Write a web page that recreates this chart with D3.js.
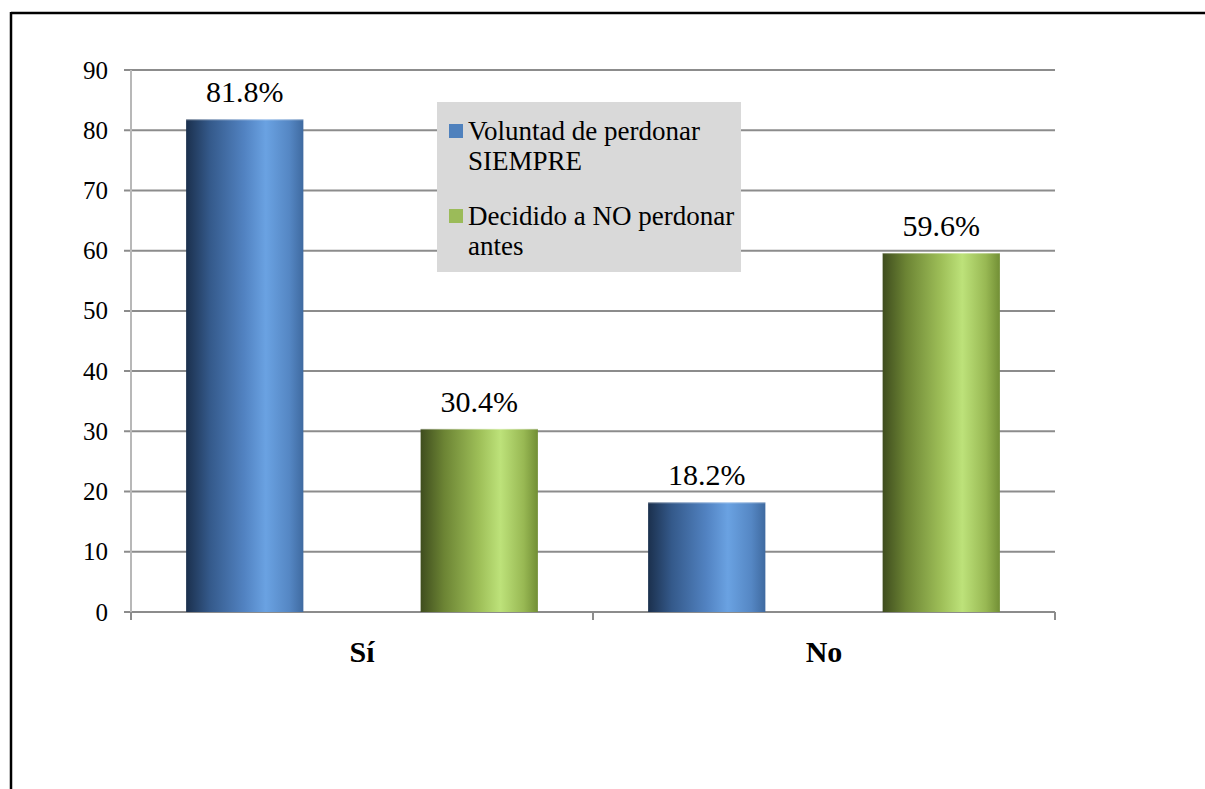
<!DOCTYPE html>
<html>
<head>
<meta charset="utf-8">
<script src="https://cdn.jsdelivr.net/npm/d3@7"></script>
<style>
  html, body { margin: 0; padding: 0; background: #fff; }
  svg { display: block; }
</style>
</head>
<body>
<svg id="chart" width="1205" height="789"></svg>
<script>
// Respuestas agrupadas por categoría
const categories = ["Sí", "No"];
const seriesNames = ["Voluntad de perdonar SIEMPRE", "Decidido a NO perdonar antes"];
const legendLines = [["Voluntad de perdonar", "SIEMPRE"], ["Decidido a NO perdonar", "antes"]];
const voluntadValues = [81.8, 18.2];
const decididoValues = [30.4, 59.6];
const yTicks = [0, 10, 20, 30, 40, 50, 60, 70, 80, 90];

const seriesValues = [voluntadValues, decididoValues];
const rows = categories.map((c, i) => ({
  category: c,
  values: seriesNames.map((s, k) => ({ series: s, k, value: seriesValues[k][i] }))
}));

const FONT = "'Liberation Serif', 'Times New Roman', Times, 'DejaVu Serif', serif";
const svg = d3.select("#chart").style("font-family", FONT);
const margin = { left: 131, right: 150, top: 70, bottom: 177 };
const W = 1205, H = 789;
const plotW = W - margin.left - margin.right;
const plotH = H - margin.top - margin.bottom;

// Frame lines around the page
svg.append("line").attr("x1", 11).attr("x2", W).attr("y1", 13).attr("y2", 13)
  .attr("stroke", "#000").attr("stroke-width", 2.5);
svg.append("line").attr("x1", 11).attr("x2", 11).attr("y1", 12).attr("y2", H)
  .attr("stroke", "#000").attr("stroke-width", 2.5);

// Gradients for the cylindrical bar look
const defs = svg.append("defs");
const gradStops = [
  [["0%", "#1b304d"], ["20%", "#34598a"], ["50%", "#5283c2"], ["68%", "#6aa2e2"], ["88%", "#5587c4"], ["100%", "#3f6aa0"]],
  [["0%", "#3f4d1e"], ["20%", "#6c8434"], ["50%", "#9ebf58"], ["68%", "#bde27a"], ["88%", "#98b853"], ["100%", "#728f35"]]
];
gradStops.forEach((stops, k) => {
  const g = defs.append("linearGradient").attr("id", "grad" + k)
    .attr("x1", "0%").attr("x2", "100%").attr("y1", "0%").attr("y2", "0%");
  stops.forEach(([o, c]) => g.append("stop").attr("offset", o).attr("stop-color", c));
});
const swatchColors = ["#4f81bd", "#9bbb59"];

const g = svg.append("g").attr("transform", `translate(${margin.left},${margin.top})`);

const x0 = d3.scaleBand().domain(categories).range([0, plotW]).paddingInner(0).paddingOuter(0);
const x1 = d3.scaleBand().domain(seriesNames).range([0, x0.bandwidth()]).paddingInner(0.5).paddingOuter(0.235);
const y = d3.scaleLinear().domain([0, 90]).range([plotH, 0]);

// Horizontal gridlines
g.append("g").selectAll("line").data(yTicks).join("line")
  .attr("x1", -7).attr("x2", plotW)
  .attr("y1", d => y(d)).attr("y2", d => y(d))
  .attr("stroke", "#8c8c8c").attr("stroke-width", 2);

// Y axis line
g.append("line").attr("x1", 0).attr("x2", 0).attr("y1", 0).attr("y2", plotH + 8)
  .attr("stroke", "#b8b8b8").attr("stroke-width", 2);

// Category separator ticks
const catEdges = [0, ...categories.map(c => x0(c) + x0.bandwidth())];
g.append("g").selectAll("line").data(catEdges).join("line")
  .attr("x1", d => d).attr("x2", d => d).attr("y1", plotH).attr("y2", plotH + 8)
  .attr("stroke", "#8c8c8c").attr("stroke-width", 2);

// Y tick labels
g.append("g").selectAll("text").data(yTicks).join("text")
  .attr("x", -23).attr("y", d => y(d)).attr("dy", "0.34em")
  .attr("font-family", FONT)
  .attr("text-anchor", "end").attr("font-size", 25).text(d => d);

// Bars
const groups = g.append("g").selectAll("g").data(rows).join("g")
  .attr("transform", d => `translate(${x0(d.category)},0)`);
groups.selectAll("rect").data(d => d.values).join("rect")
  .attr("x", d => x1(d.series)).attr("width", x1.bandwidth())
  .attr("y", d => y(d.value)).attr("height", d => plotH - y(d.value))
  .attr("fill", d => `url(#grad${d.k})`);
// thin highlight on bar tops
groups.selectAll("line.top").data(d => d.values).join("line").attr("class", "top")
  .attr("x1", d => x1(d.series)).attr("x2", d => x1(d.series) + x1.bandwidth())
  .attr("y1", d => y(d.value) + 0.5).attr("y2", d => y(d.value) + 0.5)
  .attr("stroke", "#ffffff").attr("stroke-opacity", 0.35).attr("stroke-width", 1);

// Value labels
groups.selectAll("text").data(d => d.values).join("text")
  .attr("x", d => x1(d.series) + x1.bandwidth() / 2)
  .attr("y", d => y(d.value) - 17)
  .attr("font-family", FONT)
  .attr("text-anchor", "middle").attr("font-size", 30)
  .text(d => d.value.toFixed(1) + "%");

// Category labels
g.append("g").selectAll("text").data(categories).join("text")
  .attr("x", d => x0(d) + x0.bandwidth() / 2)
  .attr("y", plotH + 50)
  .attr("font-family", FONT)
  .attr("text-anchor", "middle").attr("font-size", 30).attr("font-weight", "bold")
  .text(d => d);

// Legend
const legend = svg.append("g").attr("transform", "translate(437,102)");
legend.append("rect").attr("width", 304).attr("height", 170).attr("fill", "#d9d9d9");
const items = legend.selectAll("g").data(seriesNames).join("g")
  .attr("transform", (d, i) => `translate(0,${22 + i * 85})`);
items.append("rect").attr("x", 12).attr("y", 0).attr("width", 14).attr("height", 14)
  .attr("fill", (d, i) => swatchColors[i]);
items.each(function(d, i) {
  const t = d3.select(this).append("text").attr("x", 31).attr("y", 16)
    .attr("font-family", FONT).attr("font-size", 27);
  legendLines[i].forEach((ln, j) => {
    t.append("tspan").attr("x", 31).attr("dy", j === 0 ? 0 : 30).text(ln);
  });
});
</script>
</body>
</html>
